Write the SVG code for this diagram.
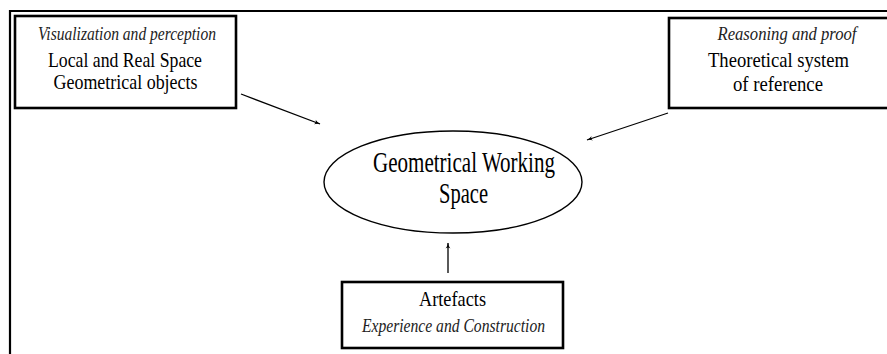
<svg xmlns="http://www.w3.org/2000/svg" width="887" height="354" viewBox="0 0 887 354">
<style>
.box{fill:#fff;stroke:#000;stroke-width:2.6}
.frame{stroke:#000;stroke-width:2.2;fill:none}
text{font-family:"Liberation Serif","DejaVu Serif",serif;fill:#000;text-anchor:middle}
.r{font-size:22px}
.i{font-size:19px;font-style:italic;fill:#222}
.big{font-size:30px}
.conn{stroke:#000;stroke-width:1.3;fill:none;marker-end:url(#ah)}
</style>
<defs>
<marker id="ah" viewBox="0 0 10 10" refX="9" refY="5" markerWidth="7" markerHeight="7" orient="auto" markerUnits="userSpaceOnUse">
<path d="M1,1.5 Q5,4.5 9.5,5 Q5,5.5 1,8.5 Q4,5 1,1.5 Z" fill="#000"/>
</marker>
</defs>
<rect width="887" height="354" fill="#fff"/>
<g id="frame">
<line class="frame" x1="9" y1="11" x2="887" y2="11"/>
<line class="frame" x1="10" y1="10" x2="10" y2="354"/>
</g>
<g id="connectors">
<line class="conn" x1="241" y1="94" x2="320" y2="124"/>
<line class="conn" x1="668" y1="113" x2="587" y2="140"/>
<line class="conn" x1="448" y1="273" x2="448" y2="243"/>
</g>
<g id="node-local">
<rect class="box" x="15" y="16" width="221" height="92"/>
<text class="i" x="127" y="40" textLength="178" lengthAdjust="spacingAndGlyphs">Visualization and perception</text>
<text class="r" x="125" y="67" textLength="154" lengthAdjust="spacingAndGlyphs">Local and Real Space</text>
<text class="r" x="125.5" y="89" textLength="144" lengthAdjust="spacingAndGlyphs">Geometrical objects</text>
</g>
<g id="node-theoretical">
<rect class="box" x="669" y="18" width="220" height="90"/>
<text class="i" x="787" y="40" textLength="139" lengthAdjust="spacingAndGlyphs">Reasoning and proof</text>
<text class="r" x="778.5" y="67" textLength="141" lengthAdjust="spacingAndGlyphs">Theoretical system</text>
<text class="r" x="778" y="91" textLength="90" lengthAdjust="spacingAndGlyphs">of reference</text>
</g>
<g id="node-gws">
<ellipse cx="453" cy="182" rx="129" ry="51" fill="#fff" stroke="#000" stroke-width="1.4"/>
<text class="big" x="464" y="172" textLength="182" lengthAdjust="spacingAndGlyphs">Geometrical Working</text>
<text class="big" x="463.5" y="203" textLength="49" lengthAdjust="spacingAndGlyphs">Space</text>
</g>
<g id="node-artefacts">
<rect class="box" x="342" y="282" width="221" height="66"/>
<text class="r" x="452.5" y="306" textLength="67" lengthAdjust="spacingAndGlyphs">Artefacts</text>
<text class="i" x="453.5" y="332" textLength="183" lengthAdjust="spacingAndGlyphs">Experience and Construction</text>
</g>
</svg>
